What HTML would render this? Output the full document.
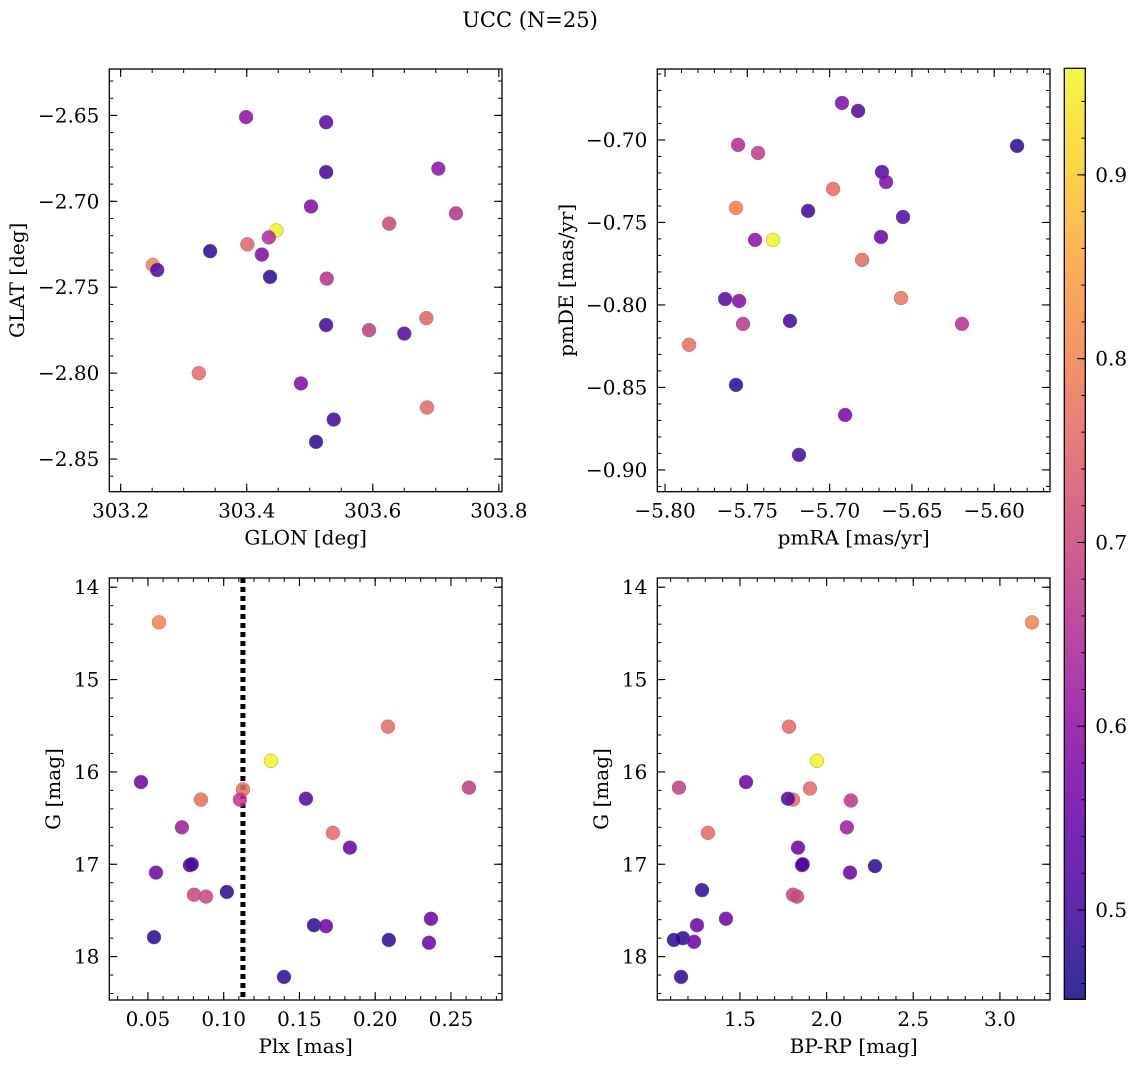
<!DOCTYPE html>
<html><head><meta charset="utf-8"><style>
html,body{margin:0;padding:0;background:#fff;}
svg{display:block;font-family:"DejaVu Serif","Liberation Serif",serif;}
</style></head><body>
<svg id="fig" width="1136" height="1068" viewBox="0 0 1136 1068" xmlns="http://www.w3.org/2000/svg">
<text x="530" y="27" font-size="21" text-anchor="middle">UCC (N=25)</text>
</svg>
<script>
// ---- data ----
const glon = [303.399,303.526,303.526,303.704,303.502,303.626,303.732,303.447,303.435,303.401,303.342,303.424,303.251,303.258,303.437,303.527,303.526,303.594,303.650,303.685,303.324,303.486,303.686,303.538,303.510];
const glat = [-2.651,-2.654,-2.683,-2.681,-2.703,-2.713,-2.707,-2.717,-2.721,-2.725,-2.729,-2.731,-2.737,-2.740,-2.744,-2.745,-2.772,-2.775,-2.777,-2.768,-2.800,-2.806,-2.820,-2.827,-2.840];
const c1 = [0.60,0.53,0.50,0.60,0.58,0.70,0.66,0.95,0.65,0.75,0.48,0.58,0.80,0.52,0.48,0.66,0.50,0.68,0.52,0.75,0.76,0.58,0.76,0.50,0.48];

const pmra = [-5.6925,-5.6827,-5.5861,-5.7556,-5.7435,-5.6682,-5.6657,-5.6979,-5.7569,-5.7131,-5.6554,-5.7453,-5.7344,-5.6688,-5.6803,-5.6566,-5.7635,-5.7550,-5.7526,-5.6196,-5.7241,-5.7854,-5.7569,-5.6906,-5.7186];
const pmde = [-0.6776,-0.6824,-0.7036,-0.7030,-0.7079,-0.7194,-0.7255,-0.7297,-0.7412,-0.7430,-0.7467,-0.7606,-0.7606,-0.7588,-0.7727,-0.7958,-0.7964,-0.7976,-0.8115,-0.8115,-0.8097,-0.8242,-0.8485,-0.8667,-0.8909];
const c2 = [0.58,0.52,0.48,0.65,0.68,0.52,0.58,0.76,0.80,0.50,0.52,0.60,0.95,0.55,0.76,0.78,0.52,0.58,0.67,0.66,0.50,0.77,0.48,0.57,0.50];

const plx = [0.0573,0.2084,0.1312,0.0454,0.2619,0.1127,0.0850,0.1543,0.1107,0.0724,0.1721,0.1833,0.0777,0.0790,0.0553,0.1021,0.0804,0.0883,0.2368,0.1596,0.1675,0.0540,0.2090,0.2355,0.1398];
const gmag3 = [14.38,15.51,15.88,16.11,16.17,16.19,16.30,16.29,16.30,16.60,16.66,16.82,17.01,17.00,17.09,17.30,17.33,17.35,17.59,17.66,17.67,17.79,17.82,17.85,18.22];
const c3 = [0.80,0.76,0.95,0.55,0.68,0.77,0.77,0.52,0.67,0.62,0.76,0.55,0.50,0.52,0.55,0.48,0.70,0.70,0.55,0.48,0.55,0.48,0.48,0.55,0.48];
const plxCut = [0.1127];

const bprp = [3.185,1.783,1.944,1.535,1.148,1.904,1.806,1.777,2.140,2.117,1.315,1.835,1.858,1.862,2.279,2.135,1.281,1.806,1.829,1.419,1.252,1.171,1.119,1.235,1.160];
const gmag4 = [14.38,15.51,15.88,16.11,16.17,16.18,16.30,16.29,16.31,16.60,16.66,16.82,17.01,17.00,17.02,17.09,17.28,17.33,17.35,17.59,17.66,17.80,17.82,17.84,18.22];
const c4 = [0.80,0.76,0.95,0.55,0.68,0.76,0.77,0.52,0.67,0.62,0.76,0.55,0.50,0.52,0.48,0.55,0.48,0.70,0.70,0.55,0.55,0.48,0.48,0.55,0.48];

const cbarRange = [0.4514, 0.958];
const cbarTicks = [0.5,0.6,0.7,0.8,0.9];

const NS='http://www.w3.org/2000/svg';
const svg=document.getElementById('fig');
function mk(tag,attrs,parent){const e=document.createElementNS(NS,tag);for(const k in attrs)e.setAttribute(k,attrs[k]);(parent||svg).appendChild(e);return e;}

const stops=['#0d0887','#41049d','#6a00a8','#8f0da4','#b12a90','#cc4778','#e16462','#f2844b','#fca636','#fcce25','#f0f921'];
function hx(h){return [parseInt(h.slice(1,3),16),parseInt(h.slice(3,5),16),parseInt(h.slice(5,7),16)];}
function plasma(t){t=Math.max(0,Math.min(1,t));const f=t*10,i=Math.min(9,Math.floor(f)),r=f-i;const a=hx(stops[i]),b=hx(stops[i+1]);
 const c=a.map((v,k)=>Math.round(v+(b[k]-v)*r));return 'rgb('+c.join(',')+')';}
function cmap(v){return plasma((v-cbarRange[0])/(cbarRange[1]-cbarRange[0]));}

function fmt(v,d){const s=Math.abs(v).toFixed(d);return (v<-1e-9?'\u2212':'')+s;}
const FS=20;

function panel(o){
 const g=mk('g',{});
 
 
 const X=v=>o.L+(v-o.x0)/(o.x1-o.x0)*(o.R-o.L);
 const Y=v=>o.T+(v-o.y0)/(o.y1-o.y0)*(o.B-o.T);
 const eps=1e-9;
 function ticks(a0,a1,step){const lo=Math.min(a0,a1),hi=Math.max(a0,a1);const out=[];for(let k=Math.ceil(lo/step-eps);k*step<=hi+eps;k++)out.push(+(k*step).toFixed(6));return out;}
 ticks(o.x0,o.x1,o.xmin).forEach(v=>{const x=X(v);mk('line',{x1:x,x2:x,y1:o.B,y2:o.B-4,stroke:'#000','stroke-width':1},g);mk('line',{x1:x,x2:x,y1:o.T,y2:o.T+4,stroke:'#000','stroke-width':1},g);});
 ticks(o.y0,o.y1,o.ymin).forEach(v=>{const y=Y(v);mk('line',{x1:o.L,x2:o.L+4,y1:y,y2:y,stroke:'#000','stroke-width':1},g);mk('line',{x1:o.R,x2:o.R-4,y1:y,y2:y,stroke:'#000','stroke-width':1},g);});
 ticks(o.x0,o.x1,o.xmaj).forEach(v=>{const x=X(v);mk('line',{x1:x,x2:x,y1:o.B,y2:o.B-8,stroke:'#000','stroke-width':1.1},g);mk('line',{x1:x,x2:x,y1:o.T,y2:o.T+8,stroke:'#000','stroke-width':1.1},g);
   const t=mk('text',{x:x,y:o.B+26,'font-size':FS,'text-anchor':'middle'},g);t.textContent=fmt(v,o.xd);
   
   });
 ticks(o.y0,o.y1,o.ymaj).forEach(v=>{const y=Y(v);mk('line',{x1:o.L,x2:o.L+8,y1:y,y2:y,stroke:'#000','stroke-width':1.1},g);mk('line',{x1:o.R,x2:o.R-8,y1:y,y2:y,stroke:'#000','stroke-width':1.1},g);
   const t=mk('text',{x:o.L-10,y:y+7,'font-size':FS,'text-anchor':'end'},g);t.textContent=fmt(v,o.yd);
   
   });
 if(o.vline){o.vline.forEach(v=>{const l=mk('line',{x1:X(v),x2:X(v),y1:o.T,y2:o.B,stroke:'#000','stroke-width':5,'stroke-dasharray':'5,4'},g);
   
   });}
 o.xs.forEach((xv,i)=>{const c=mk('circle',{cx:X(xv),cy:Y(o.ys[i]),r:7,fill:cmap(o.cs[i]),'fill-opacity':0.85,stroke:'#777','stroke-width':0.5,'stroke-opacity':0.7},g);
   
   });
 const f=mk('rect',{x:o.L,y:o.T,width:o.R-o.L,height:o.B-o.T,fill:'none',stroke:'#000','stroke-width':1.3},g);
 
 
 const xl=mk('text',{x:(o.L+o.R)/2,y:o.B+53,'font-size':FS,'text-anchor':'middle'},g);xl.textContent=o.xlabel;
 
 
 const yl=mk('text',{x:o.ylx,y:(o.T+o.B)/2,'font-size':FS,'text-anchor':'middle',transform:'rotate(-90 '+o.ylx+' '+((o.T+o.B)/2)+')'},g);yl.textContent=o.ylabel;
 
 
}

panel({name:'glon-glat-panel',L:109.3,R:502,T:69,B:491.7,x0:303.182,x1:303.805,y0:-2.623,y1:-2.869,xmaj:0.2,xmin:0.05,ymaj:0.05,ymin:0.01,xd:1,yd:2,xs:glon,ys:glat,cs:c1,xlabel:'GLON [deg]',ylabel:'GLAT [deg]',ylx:24});
panel({name:'pm-panel',L:657.3,R:1050,T:69,B:491.7,x0:-5.8047,x1:-5.5661,y0:-0.657,y1:-0.9132,xmaj:0.05,xmin:0.01,ymaj:0.05,ymin:0.01,xd:2,yd:2,xs:pmra,ys:pmde,cs:c2,xlabel:'pmRA [mas/yr]',ylabel:'pmDE [mas/yr]',ylx:573});
panel({name:'plx-g-panel',L:109.3,R:502,T:578,B:1000,x0:0.0245,x1:0.2837,y0:13.90,y1:18.47,xmaj:0.05,xmin:0.01,ymaj:1,ymin:0.2,xd:2,yd:0,xs:plx,ys:gmag3,cs:c3,xlabel:'Plx [mas]',ylabel:'G [mag]',ylx:60,vline:plxCut});
panel({name:'cmd-panel',L:657.3,R:1050,T:578,B:1000,x0:1.023,x1:3.289,y0:13.90,y1:18.47,xmaj:0.5,xmin:0.1,ymaj:1,ymin:0.2,xd:1,yd:0,xs:bprp,ys:gmag4,cs:c4,xlabel:'BP-RP [mag]',ylabel:'G [mag]',ylx:608});

// colorbar
(function(){
 const L=1064.3,R=1085.3,T=68.3,B=999.3;
 const g=mk('g',{});
 
 
 const defs=mk('defs',{},g);
 const lg=mk('linearGradient',{id:'cg',x1:0,y1:1,x2:0,y2:0},defs);
 for(let i=0;i<=20;i++){const t=i/20;mk('stop',{offset:t,'stop-color':cmap(cbarRange[0]+t*(cbarRange[1]-cbarRange[0]))},lg);}
 mk('rect',{x:L,y:T,width:R-L,height:B-T,fill:'url(#cg)','fill-opacity':0.85},g);
 const Y=v=>B-(v-cbarRange[0])/(cbarRange[1]-cbarRange[0])*(B-T);
 for(let k=Math.ceil(cbarRange[0]/0.02);k*0.02<=cbarRange[1];k++){const y=Y(k*0.02);mk('line',{x1:R,x2:R-4,y1:y,y2:y,stroke:'#000','stroke-width':1},g);}
 cbarTicks.forEach(v=>{const y=Y(v);mk('line',{x1:R,x2:R-8,y1:y,y2:y,stroke:'#000','stroke-width':1.1},g);
  const t=mk('text',{x:R+10,y:y+7,'font-size':FS},g);t.textContent=v.toFixed(1);
  
  });
 mk('rect',{x:L,y:T,width:R-L,height:B-T,fill:'none',stroke:'#000','stroke-width':1.3},g);
})();
</script>
</body></html>
